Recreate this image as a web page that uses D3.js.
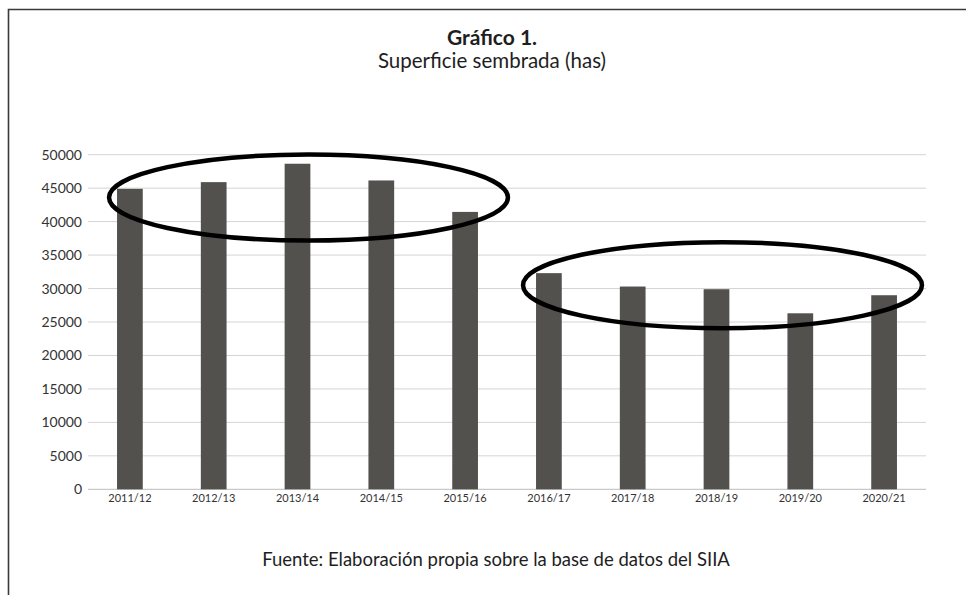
<!DOCTYPE html>
<html>
<head>
<meta charset="utf-8">
<script src="https://cdn.jsdelivr.net/npm/d3@7"></script>
<style>
  body { margin: 0; background: #fff; }
  svg { display: block; font-family: Lato, "Open Sans", sans-serif; }
</style>
</head>
<body>
<svg id="chart"></svg>
<script>
// data
const campaigns = ["2011/12", "2012/13", "2013/14", "2014/15", "2015/16",
                   "2016/17", "2017/18", "2018/19", "2019/20", "2020/21"];
const hectares = [44900, 45900, 48650, 46150, 41450, 32300, 30300, 29900, 26300, 29000];
const yTicks = [0, 5000, 10000, 15000, 20000, 25000, 30000, 35000, 40000, 45000, 50000];
// the two hand drawn rings, by first / last campaign and the level they sit at
const rings = [
    { from: "2011/12", to: "2015/16", level: 43600 },
    { from: "2016/17", to: "2020/21", level: 30500 }
];

const width = 966;
const height = 595;
const plotLeft = 88, plotRight = 926, plotTop = 154.7, plotBottom = 489.3;

const svg = d3.select("#chart")
    .attr("width", width)
    .attr("height", height);

// frame (only top and left edges show)
svg.append("path")
    .attr("d", `M8.5,${height} V9.5 H${width}`)
    .attr("fill", "none")
    .attr("stroke", "#3a3a3a")
    .attr("stroke-width", 1.6);

// titles
svg.append("text")
    .attr("x", 492).attr("y", 45)
    .attr("text-anchor", "middle")
    .attr("font-size", 21).attr("font-weight", "bold")
    .attr("fill", "#1e1e1e")
    .text("Gráfico 1.");

svg.append("text")
    .attr("x", 492).attr("y", 68)
    .attr("text-anchor", "middle")
    .attr("font-size", 20.5)
    .attr("fill", "#1e1e1e")
    .text("Superficie sembrada (has)");

// scales
const x = d3.scaleBand()
    .domain(campaigns)
    .range([plotLeft, plotRight])
    .paddingInner(0.693)
    .paddingOuter(0.3465);

const y = d3.scaleLinear()
    .domain([0, 50000])
    .range([plotBottom, plotTop]);

// gridlines
svg.append("g")
    .selectAll("line")
    .data(yTicks)
    .enter()
    .append("line")
    .attr("x1", plotLeft).attr("x2", plotRight)
    .attr("y1", d => y(d)).attr("y2", d => y(d))
    .attr("stroke", d => d === 0 ? "#bcbcbc" : "#d4d4d4")
    .attr("stroke-width", 1);

// y axis labels
const yAxis = d3.axisLeft(y)
    .tickValues(yTicks)
    .tickSize(0)
    .tickPadding(6)
    .tickFormat(d => String(d));

svg.append("g")
    .attr("transform", `translate(${plotLeft},0)`)
    .call(yAxis)
    .call(g => g.select(".domain").remove())
    .call(g => g.selectAll("text")
        .attr("font-family", "Lato, 'Open Sans', sans-serif")
        .attr("font-size", 14)
        .attr("fill", "#333"));

// bars
svg.append("g")
    .selectAll("rect")
    .data(campaigns)
    .enter()
    .append("rect")
    .attr("x", d => x(d))
    .attr("width", x.bandwidth())
    .attr("y", (d, i) => y(hectares[i]))
    .attr("height", (d, i) => y(0) - y(hectares[i]))
    .attr("fill", "#53514e");

// x axis labels
const xAxis = d3.axisBottom(x)
    .tickSize(0)
    .tickPadding(5);

svg.append("g")
    .attr("transform", `translate(0,${plotBottom})`)
    .call(xAxis)
    .call(g => g.select(".domain").remove())
    .call(g => g.selectAll("text")
        .attr("font-family", "Lato, 'Open Sans', sans-serif")
        .attr("font-size", 11)
        .attr("fill", "#333"));

// rings
svg.append("g")
    .selectAll("ellipse")
    .data(rings)
    .enter()
    .append("ellipse")
    .attr("cx", (d, i) => (x(d.from) + x(d.to) + x.bandwidth()) / 2 + (i === 0 ? 11 : 6))
    .attr("cy", d => y(d.level))
    .attr("rx", d => (x(d.to) + x.bandwidth() - x(d.from)) / 2 + 19)
    .attr("ry", 43)
    .attr("fill", "none")
    .attr("stroke", "#000")
    .attr("stroke-width", 4.5);

// source note
svg.append("text")
    .attr("x", 496).attr("y", 566)
    .attr("text-anchor", "middle")
    .attr("font-size", 18.5)
    .attr("fill", "#1e1e1e")
    .text("Fuente: Elaboración propia sobre la base de datos del SIIA");
</script>
</body>
</html>
